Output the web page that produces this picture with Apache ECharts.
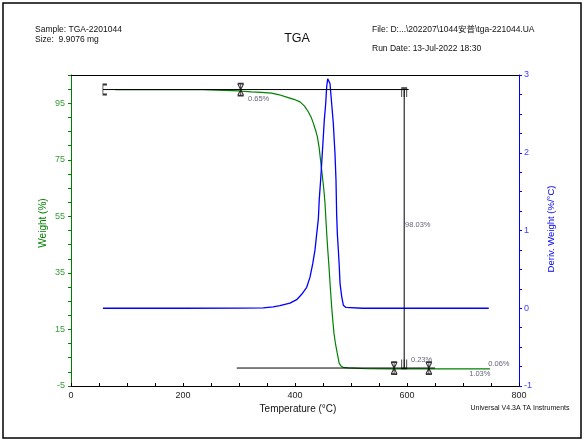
<!DOCTYPE html>
<html>
<head>
<meta charset="utf-8">
<script src="https://cdn.jsdelivr.net/npm/echarts@6/dist/echarts.min.js"></script>
<style>
html,body{margin:0;padding:0;background:#fff;}
#c{width:585px;height:443px;}
</style>
</head>
<body>
<div id="c"></div>
<script>
// ---- data (temperature °C, weight %) ----
const weightT = [79, 150, 235, 237, 300, 322, 340, 358, 372, 385, 398, 409, 417, 424, 429, 433, 437, 440, 443, 445, 447, 449, 451.5, 453.6, 455, 456.6, 458.5, 460.7, 463, 465.5, 467.5, 469.6, 472, 474.4, 477, 479, 482, 486, 491, 495, 530, 570, 650, 748];
const weightW = [99.8, 99.8, 99.8, 99.55, 99.35, 99.0, 98.85, 98.6, 98.0, 97.2, 96.4, 95.5, 94.0, 91.9, 90.0, 87.8, 85.3, 83.1, 79.5, 76.0, 72.5, 69.0, 64.5, 59.6, 54.5, 49.0, 43.2, 37.2, 30.0, 23.0, 18.2, 13.6, 10.3, 7.7, 5.0, 3.0, 2.1, 1.6, 1.5, 1.4, 1.1, 1.05, 1.04, 1.03];

// ---- derivative weight (%/°C) ----
const derivT = [57, 200, 300, 343.5, 361, 373, 391, 403, 412, 420.9, 426.8, 431.6, 435.7, 438.8, 441.7, 443.4, 445.8, 447.6, 450.5, 452.3, 454.8, 456.6, 458.4, 460.5, 462.5, 465.5, 468.4, 471.4, 473.2, 474.4, 475.6, 477.4, 479.1, 480.4, 483.4, 486.3, 491, 520, 746];
const derivD = [0, 0, 0.002, 0.005, 0.017, 0.035, 0.065, 0.11, 0.18, 0.27, 0.40, 0.57, 0.75, 0.96, 1.15, 1.41, 1.65, 1.86, 2.20, 2.42, 2.63, 2.85, 2.95, 2.97, 2.89, 2.63, 2.38, 1.99, 1.65, 1.2, 0.96, 0.75, 0.53, 0.32, 0.15, 0.04, 0.01, 0, 0];

// ---- step analysis annotations (temperature, weight) ----
const topLineT = [57, 603];
const topLineW = [99.85, 99.85];
const bottomLineT = [296, 650];
const bottomLineW = [1.35, 1.35];
const stepLineT = [595, 595];
const stepLineW = [99.85, 1.35];
const cursorT = [303, 577, 639];
const cursorW = [99.85, 1.35, 1.35];
const labelText = ['0.65%', '98.03%', '0.23%', '0.06%', '1.03%'];
const labelT = [316, 596.5, 607, 745, 711];
const labelW = [96.4, 51.9, 4.2, 2.8, -0.8];

// ---- axis tick labels ----
const xTickLabels = [0, 200, 400, 600, 800];
const leftTickLabels = [-5, 15, 35, 55, 75, 95];
const rightTickLabels = [-1, 0, 1, 2, 3];

const zip = (a, b) => a.map((v, i) => [v, b[i]]);
const FONT = 'Liberation Sans';

const xSym = 'path://M0,0 L8,0 M0,0 L8,14 M8,0 L0,14 M0,14 L8,14 M4,0 L4,14';
const nSym = 'path://M0,12 L0,0 L6,0 L6,12 M3,0 L3,12';
const uSym = 'path://M0,0 L0,10 L6,10 L6,0 M3,0 L3,10';
const capSym = 'path://M5,0 L0,0 L0,10 L5,10';
const barSym = 'path://M0,0 L0,10';

const chart = echarts.init(document.getElementById('c'), null, {renderer: 'canvas'});
chart.setOption({
  animation: false,
  backgroundColor: '#fff',
  textStyle: {fontFamily: FONT},
  grid: {left: 71, right: 66, top: 75, bottom: 57},
  xAxis: [{
    type: 'value', min: 0, max: 800, interval: 50, position: 'bottom',
    axisLine: {onZero: false, lineStyle: {color: '#000', width: 1}},
    axisTick: {inside: true, length: 3, lineStyle: {color: '#000'}},
    splitLine: {show: false},
    axisLabel: {color: '#222', fontSize: 9, margin: 5, fontFamily: FONT,
      formatter: v => xTickLabels.includes(v) ? String(v) : ''}
  }, {
    type: 'value', min: 0, max: 800, position: 'top',
    axisLine: {show: true, onZero: false, lineStyle: {color: '#000', width: 1}},
    axisTick: {show: false}, axisLabel: {show: false}, splitLine: {show: false}
  }],
  yAxis: [{
    type: 'value', min: -5, max: 105, interval: 5, position: 'left',
    axisLine: {show: true, onZero: false, lineStyle: {color: '#008000', width: 1}},
    axisTick: {show: true, length: 3, lineStyle: {color: '#008000'}},
    splitLine: {show: false},
    axisLabel: {color: '#3a9a3a', fontSize: 9, margin: 6, fontFamily: FONT,
      formatter: v => leftTickLabels.includes(v) ? String(v) : ''}
  }, {
    type: 'value', min: -1, max: 3, interval: 0.25, position: 'right',
    axisLine: {show: true, onZero: false, lineStyle: {color: '#0000ff', width: 1}},
    axisTick: {show: true, length: 3, lineStyle: {color: '#0000ff'}},
    splitLine: {show: false},
    axisLabel: {color: '#4040ff', fontSize: 9, margin: 5, fontFamily: FONT,
      formatter: v => rightTickLabels.includes(v) ? String(v) : ''}
  }],
  series: [
    {type: 'line', name: 'Weight', yAxisIndex: 0, data: zip(weightT, weightW),
      showSymbol: false, lineStyle: {color: '#008000', width: 1.2}, z: 3},
    {type: 'line', name: 'Deriv', yAxisIndex: 1, data: zip(derivT, derivD),
      showSymbol: false, lineStyle: {color: '#0000ff', width: 1.3}, z: 3},
    {type: 'line', yAxisIndex: 0, data: zip(topLineT, topLineW), showSymbol: false,
      lineStyle: {color: '#000', width: 1}, z: 4},
    {type: 'line', yAxisIndex: 0, data: zip(bottomLineT, bottomLineW), showSymbol: false,
      lineStyle: {color: '#000', width: 1}, z: 4},
    {type: 'line', yAxisIndex: 0, data: zip(stepLineT, stepLineW), showSymbol: false,
      lineStyle: {color: '#000', width: 1}, z: 4},
    {type: 'scatter', yAxisIndex: 0, data: zip(cursorT, cursorW), symbol: xSym,
      symbolSize: [6, 12], itemStyle: {color: 'transparent', borderColor: '#000', borderWidth: 1.2}, z: 5},
    {type: 'scatter', yAxisIndex: 0, data: [[stepLineT[0], stepLineW[0]]], symbol: nSym,
      symbolSize: [5, 9], symbolOffset: [0, 3], itemStyle: {color: 'transparent', borderColor: '#000', borderWidth: 1.2}, z: 5},
    {type: 'scatter', yAxisIndex: 0, data: [[stepLineT[1], stepLineW[1]]], symbol: uSym,
      symbolSize: [5, 9], symbolOffset: [0, -4], itemStyle: {color: 'transparent', borderColor: '#000', borderWidth: 1.2}, z: 5},
    {type: 'scatter', yAxisIndex: 0, data: [[topLineT[0], topLineW[0]]], symbol: capSym,
      symbolSize: [4, 10], symbolOffset: [2, 0], itemStyle: {color: 'transparent', borderColor: '#000', borderWidth: 1.2}, z: 5},
    {type: 'scatter', yAxisIndex: 0, data: [[bottomLineT[0], bottomLineW[0]]], symbol: barSym,
      symbolSize: [1, 10], itemStyle: {color: 'transparent', borderColor: '#000', borderWidth: 1.2}, z: 5},
    {type: 'scatter', yAxisIndex: 0, symbolSize: 0, z: 6,
      data: labelT.map((t, i) => ({value: [t, labelW[i]], name: labelText[i]})),
      label: {show: true, position: 'right', distance: 0, formatter: p => p.name,
        color: '#3a3a5a', fontSize: 7.5, fontFamily: FONT}}
  ],
  graphic: [
    {type: 'rect', shape: {x: 3, y: 3, width: 578, height: 435},
      style: {fill: 'none', stroke: '#000', lineWidth: 1.5}, silent: true, z: -1},
    {type: 'text', x: 35, y: 30, style: {text: 'Sample: TGA-2201044', font: '8.5px "Liberation Sans"', fill: '#111', verticalAlign: 'middle'}},
    {type: 'text', x: 35, y: 40, style: {text: 'Size:  9.9076 mg', font: '8.5px "Liberation Sans"', fill: '#111', verticalAlign: 'middle'}},
    {type: 'text', x: 297, y: 39, style: {text: 'TGA', font: '12.5px "Liberation Sans"', fill: '#111', align: 'center', verticalAlign: 'middle'}},
    {type: 'text', x: 372, y: 30, style: {text: 'File: D:...\\202207\\1044安普\\tga-221044.UA', font: '8.5px "Liberation Sans", "Noto Sans CJK SC"', fill: '#111', verticalAlign: 'middle'}},
    {type: 'text', x: 372, y: 49, style: {text: 'Run Date: 13-Jul-2022 18:30', font: '8.5px "Liberation Sans"', fill: '#111', verticalAlign: 'middle'}},
    {type: 'text', x: 43, y: 223, rotation: Math.PI / 2, style: {text: 'Weight (%)', font: '10px "Liberation Sans"', fill: '#008000', align: 'center', verticalAlign: 'middle'}},
    {type: 'text', x: 551, y: 229, rotation: Math.PI / 2, style: {text: 'Deriv. Weight (%/°C)', font: '9.5px "Liberation Sans"', fill: '#0000ff', align: 'center', verticalAlign: 'middle'}},
    {type: 'text', x: 298, y: 409, style: {text: 'Temperature (°C)', font: '10px "Liberation Sans"', fill: '#111', align: 'center', verticalAlign: 'middle'}},
    {type: 'text', x: 520, y: 408, style: {text: 'Universal V4.3A TA Instruments', font: '7px "Liberation Sans"', fill: '#111', align: 'center', verticalAlign: 'middle'}}
  ]
});
</script>
</body>
</html>
